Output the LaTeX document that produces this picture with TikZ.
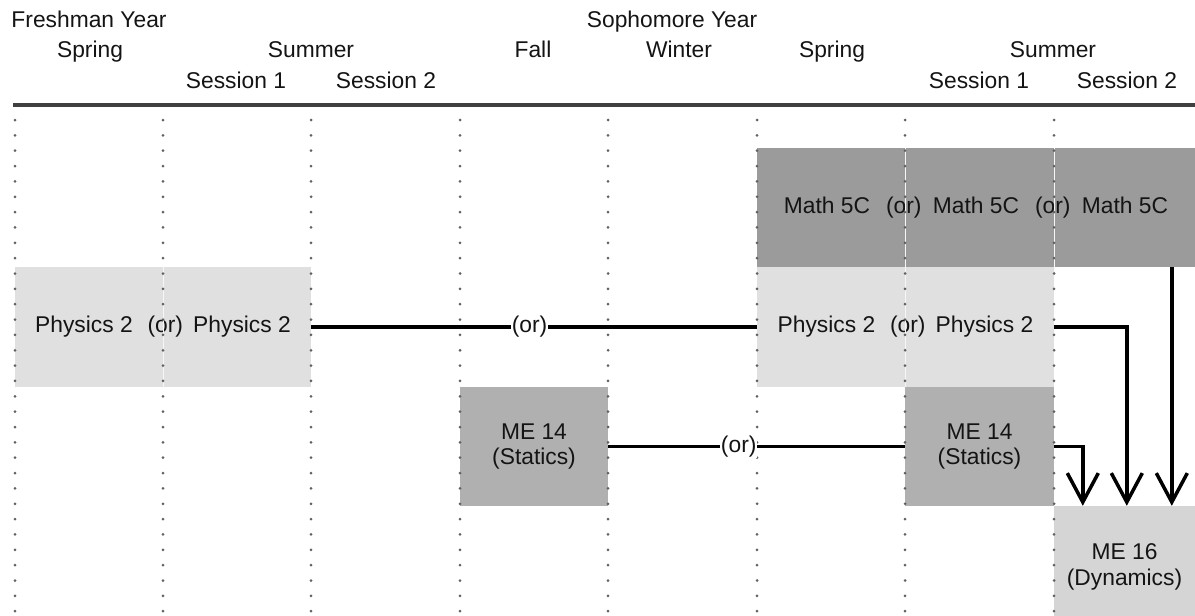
\documentclass[tikz,border=0pt]{standalone}
\usepackage{fontspec}
\setmainfont{Liberation Sans}
\usetikzlibrary{arrows.meta}
\definecolor{mathgray}{RGB}{155,155,155}
\definecolor{staticsgray}{RGB}{176,176,176}
\definecolor{physgray}{RGB}{224,224,224}
\definecolor{dyngray}{RGB}{213,213,213}
\definecolor{inkgray}{RGB}{20,20,20}

\begin{document}
\begin{tikzpicture}[x=1pt,y=-1pt,
    >={Straight Barb[length=29pt,width=31pt]},
    font=\fontsize{22.8}{25.5}\selectfont,
    head/.style={anchor=base,text=inkgray,inner sep=0pt},
    course/.style={inner sep=0pt,align=center,text=inkgray},
    description/.style={fill=white,inner sep=0.8pt,text=inkgray},
    grid/.style={black!62,line width=3pt,line cap=round,dash pattern=on 0pt off 15.35pt},
    link/.style={line width=3.5pt,black}]
    \useasboundingbox (0,0) rectangle (1195,616);
    \clip (0,0) rectangle (1195,616);

    \node[head] (fresh) at (89,27) {Freshman Year};
    \node[head] (spring1) at (90,57) {Spring};
    \node[head] (summer1) at (311,57) {Summer};
    \node[head] (sessa1) at (236,88) {Session 1};
    \node[head] (sessb1) at (386,88) {Session 2};
    \node[head] (soph) at (672,27) {Sophomore Year};
    \node[head] (fall) at (533,57) {Fall};
    \node[head] (winter) at (679,57) {Winter};
    \node[head] (spring2) at (832,57) {Spring};
    \node[head] (summer2) at (1053,57) {Summer};
    \node[head] (sessa2) at (979,88) {Session 1};
    \node[head] (sessb2) at (1127,88) {Session 2};
    \draw[line width=3.5pt,black!75] (13,105) -- (1195,105);

    \node[course,fill=mathgray,minimum width=438pt,minimum height=119pt] (math) at (976,207.5)
      {Math 5C\hspace{.7em}(or)\hspace{.5em}Math 5C\hspace{.7em}(or)\hspace{.5em}Math 5C};
    \node[course,fill=physgray,minimum width=296pt,minimum height=120pt] (phys1) at (163,327)
      {Physics 2\hspace{.65em}(or)\hspace{.45em}Physics 2};
    \node[course,fill=physgray,minimum width=297pt,minimum height=120pt] (phys2) at (905.5,327)
      {Physics 2\hspace{.65em}(or)\hspace{.45em}Physics 2};
    \node[course,fill=staticsgray,minimum width=148pt,minimum height=119pt] (me14a) at (534,446.5)
      {ME 14\\(Statics)};
    \node[course,fill=staticsgray,minimum width=149pt,minimum height=119pt] (me14b) at (979.5,446.5)
      {ME 14\\(Statics)};
    \node[course,fill=dyngray,minimum width=141pt,minimum height=122pt] (me16) at (1124.5,567)
      {ME 16\\(Dynamics)};

    \draw[white!70!physgray,line width=0.7pt] (163,267) -- (163,387) (905,148) -- (905,387) (1054,148) -- (1054,267);
    \draw[grid] (15,120) -- (15,616) (163,120) -- (163,616) (311,120) -- (311,616)
      (460,120) -- (460,616) (608,120) -- (608,616) (757,120) -- (757,616)
      (905,120) -- (905,616) (1054,120) -- (1054,616);

    \path[link] (phys1) edge node[description,pos=.49] {(or)} (phys2);
    \path[link] (me14a) edge node[description,pos=.44] {(or)} (me14b);

    \coordinate (in1) at ([xshift=29pt]me16.north west);
    \coordinate (in2) at ([xshift=73pt]me16.north west);
    \coordinate (in3) at ([xshift=118pt]me16.north west);
    \draw[link,->] (me14b.east) -| (in1);
    \draw[link,->] (phys2.east) -| (in2);
    \draw[link,->] (math.south -| in3) -- (in3);
  \end{tikzpicture}
\end{document}
